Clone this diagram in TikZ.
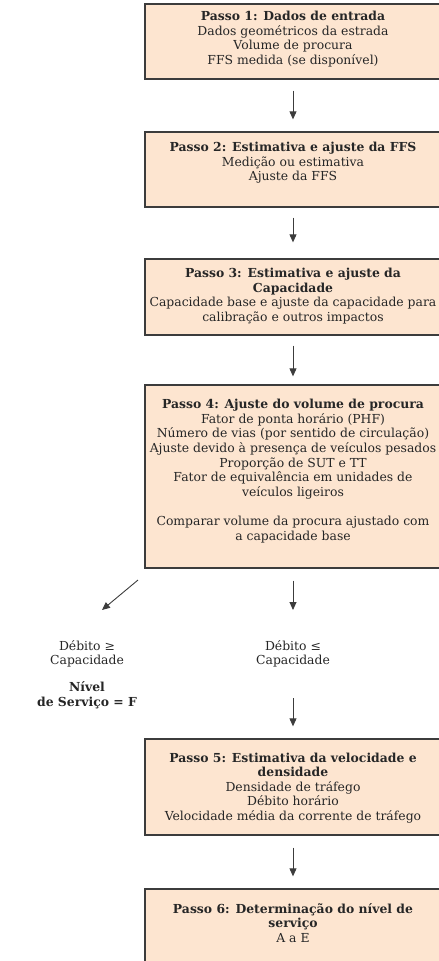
\documentclass[tikz,border=0pt]{standalone}
\usepackage{fontspec}
\setmainfont{DejaVu Serif}
\usetikzlibrary{arrows.meta}
\definecolor{boxfill}{HTML}{FDE5D0}
\definecolor{boxline}{HTML}{3C3C3C}
\definecolor{txtcol}{HTML}{262626}
\begin{document}
\begin{tikzpicture}[x=1pt,y=1pt,
  box/.style={draw=boxline,line width=1.3pt,fill=boxfill,minimum width=296pt,inner sep=0pt},
  txt/.style={align=center,inner sep=0pt,text=txtcol,font=\fontsize{12.4}{14.6}\selectfont},
  arr/.style={draw=boxline,line width=0.9pt,-{Triangle[length=8pt,width=7pt]}}]
\useasboundingbox (0,0) rectangle (439,-961);
\clip (0,0) rectangle (439,-961);
% boxes
\node[box,minimum height=75pt] (b1) at (293,-41.5) {};
\node[box,minimum height=75pt] (b2) at (293,-169.5) {};
\node[box,minimum height=76pt] (b3) at (293,-297) {};
\node[box,minimum height=183pt] (b4) at (293,-476.5) {};
\node[box,minimum height=96pt] (b5) at (293,-787) {};
\node[box,minimum height=90pt] (b6) at (293,-934) {};
% texts
\node[txt] (t1) at (293,-39) {\textbf{Passo 1: Dados de entrada}\\Dados geométricos da estrada\\Volume de procura\\FFS medida (se disponível)};
\node[txt] (t2) at (293,-163) {\textbf{Passo 2: Estimativa e ajuste da FFS}\\Medição ou estimativa\\Ajuste da FFS};
\node[txt] (t3) at (293,-296) {\textbf{Passo 3: Estimativa e ajuste da}\\\textbf{Capacidade}\\Capacidade base e ajuste da capacidade para\\calibração e outros impactos};
\node[txt] (t4) at (293,-471) {\textbf{Passo 4: Ajuste do volume de procura}\\Fator de ponta horário (PHF)\\Número de vias (por sentido de circulação)\\Ajuste devido à presença de veículos pesados\\Proporção de SUT e TT\\Fator de equivalência em unidades de\\veículos ligeiros\\[14.6pt]Comparar volume da procura ajustado com\\a capacidade base};
\node[txt] (t5) at (293,-788) {\textbf{Passo 5: Estimativa da velocidade e}\\\textbf{densidade}\\Densidade de tráfego\\Débito horário\\Velocidade média da corrente de tráfego};
\node[txt] (t6) at (293,-923) {\textbf{Passo 6: Determinação do nível de}\\\textbf{serviço}\\A a E};
% side texts
\node[txt] (dge) at (87,-654) {Débito ≥\\Capacidade};
\node[txt] (nls) at (87,-695) {\textbf{Nível}\\\textbf{de Serviço = F}};
\node[txt] (dle) at (293,-654) {Débito ≤\\Capacidade};
% connector end points
\coordinate (dstart) at (138,-580);
\coordinate (dend) at (102,-610);
\coordinate (vend) at (293,-610);
\coordinate (lstart) at (293,-698);
% arrows
\draw[arr] ([yshift=-11pt]b1.south) -- ([yshift=12pt]b2.north);
\draw[arr] ([yshift=-10pt]b2.south) -- ([yshift=16pt]b3.north);
\draw[arr] ([yshift=-10pt]b3.south) -- ([yshift=8pt]b4.north);
\draw[arr] ([yshift=-12pt]b4.south) -- (vend);
\draw[arr] (dstart) -- (dend);
\draw[arr] (lstart) -- ([yshift=12pt]b5.north);
\draw[arr] ([yshift=-12pt]b5.south) -- ([yshift=12pt]b6.north);
\end{tikzpicture}
\end{document}
